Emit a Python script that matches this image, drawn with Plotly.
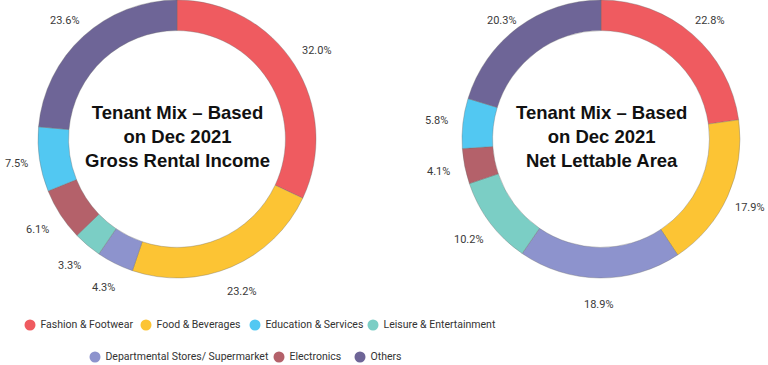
import math
import plotly.graph_objects as go

categories = ["Fashion & Footwear", "Food & Beverages", "Departmental Stores/ Supermarket",
              "Leisure & Entertainment", "Electronics", "Education & Services", "Others"]
gri_values = [32.0, 23.2, 4.3, 3.3, 6.1, 7.5, 23.6]
nla_values = [22.8, 17.9, 18.9, 10.2, 4.1, 5.8, 20.3]
titles = ["Tenant Mix – Based<br>on Dec 2021<br>Gross Rental Income",
          "Tenant Mix – Based<br>on Dec 2021<br>Net Lettable Area"]
legend_rows = [["Fashion & Footwear", "Food & Beverages", "Education & Services", "Leisure & Entertainment"],
               ["Departmental Stores/ Supermarket", "Electronics", "Others"]]

colors = {
    "Fashion & Footwear": "#EF5B60",
    "Food & Beverages": "#FCC434",
    "Education & Services": "#52C8F2",
    "Leisure & Entertainment": "#7BCEC5",
    "Departmental Stores/ Supermarket": "#8D93CD",
    "Electronics": "#B4616A",
    "Others": "#6E6597",
}

W, H = 768, 365
LABEL_FONT = "Roboto, Liberation Sans, sans-serif"

# pie layout (pixels)
pies = [
    dict(values=gri_values, cx=177, cy=139, r=139, title=titles[0]),
    dict(values=nla_values, cx=601, cy=139, r=139, title=titles[1]),
]

fig = go.Figure()
annotations = []
for p in pies:
    x0 = (p["cx"] - p["r"]) / W
    x1 = (p["cx"] + p["r"]) / W
    y0 = max(0.0, 1 - (p["cy"] + p["r"]) / H)
    y1 = min(1.0, 1 - (p["cy"] - p["r"]) / H)
    fig.add_trace(go.Pie(
        labels=categories, values=p["values"], sort=False, direction="clockwise",
        rotation=0, hole=0.78, textinfo="none", hoverinfo="label+percent",
        marker=dict(colors=[colors[c] for c in categories],
                    line=dict(color="rgba(110,110,110,0.6)", width=0.6)),
        domain=dict(x=[x0, x1], y=[y0, y1]), showlegend=False,
    ))
    total = sum(p["values"])
    cum = 0.0
    for v in p["values"]:
        mid = (cum + v / 2) / total * 2 * math.pi
        cum += v
        rr = p["r"] + 27
        px = p["cx"] + rr * math.sin(mid)
        py = p["cy"] - rr * math.cos(mid)
        px = min(max(px, 16), W - 18)
        py = max(py, 20)
        annotations.append(dict(
            x=px / W, y=1 - py / H, xref="paper", yref="paper", showarrow=False,
            text=f"{v:.1f}%", font=dict(family=LABEL_FONT, size=11, color="#3a3a3a"),
            xanchor="center", yanchor="middle"))
    annotations.append(dict(
        x=p["cx"] / W, y=1 - 136 / H, xref="paper", yref="paper", showarrow=False,
        text=f"<b>{p['title']}</b>", align="center",
        font=dict(family="Liberation Sans, Arial, sans-serif", size=18.5, color="#111111"),
        xanchor="center", yanchor="middle"))

# custom legend (markers + text) on hidden axes in pixel units
legend_x = [[30, 146, 255, 373], [95, 279, 360]]
legend_y = [325, 357]
for row, xs, yy in zip(legend_rows, legend_x, legend_y):
    fig.add_trace(go.Scatter(
        x=xs, y=[yy] * len(xs), mode="markers+text",
        marker=dict(size=11, color=[colors[c] for c in row]),
        text=[" " + c for c in row], textposition="middle right",
        textfont=dict(family=LABEL_FONT, size=10.5, color="#333333"),
        hoverinfo="skip", showlegend=False, cliponaxis=False,
    ))

fig.update_layout(
    width=W, height=H, margin=dict(l=0, r=0, t=0, b=0),
    paper_bgcolor="white", plot_bgcolor="rgba(0,0,0,0)",
    xaxis=dict(range=[0, W], visible=False, domain=[0, 1], fixedrange=True),
    yaxis=dict(range=[H, 0], visible=False, domain=[0, 1], fixedrange=True),
    annotations=annotations,
)
fig.write_html("out.html", config={"displayModeBar": False},
               post_script="document.body.style.margin='0';document.body.style.overflow='hidden';")
